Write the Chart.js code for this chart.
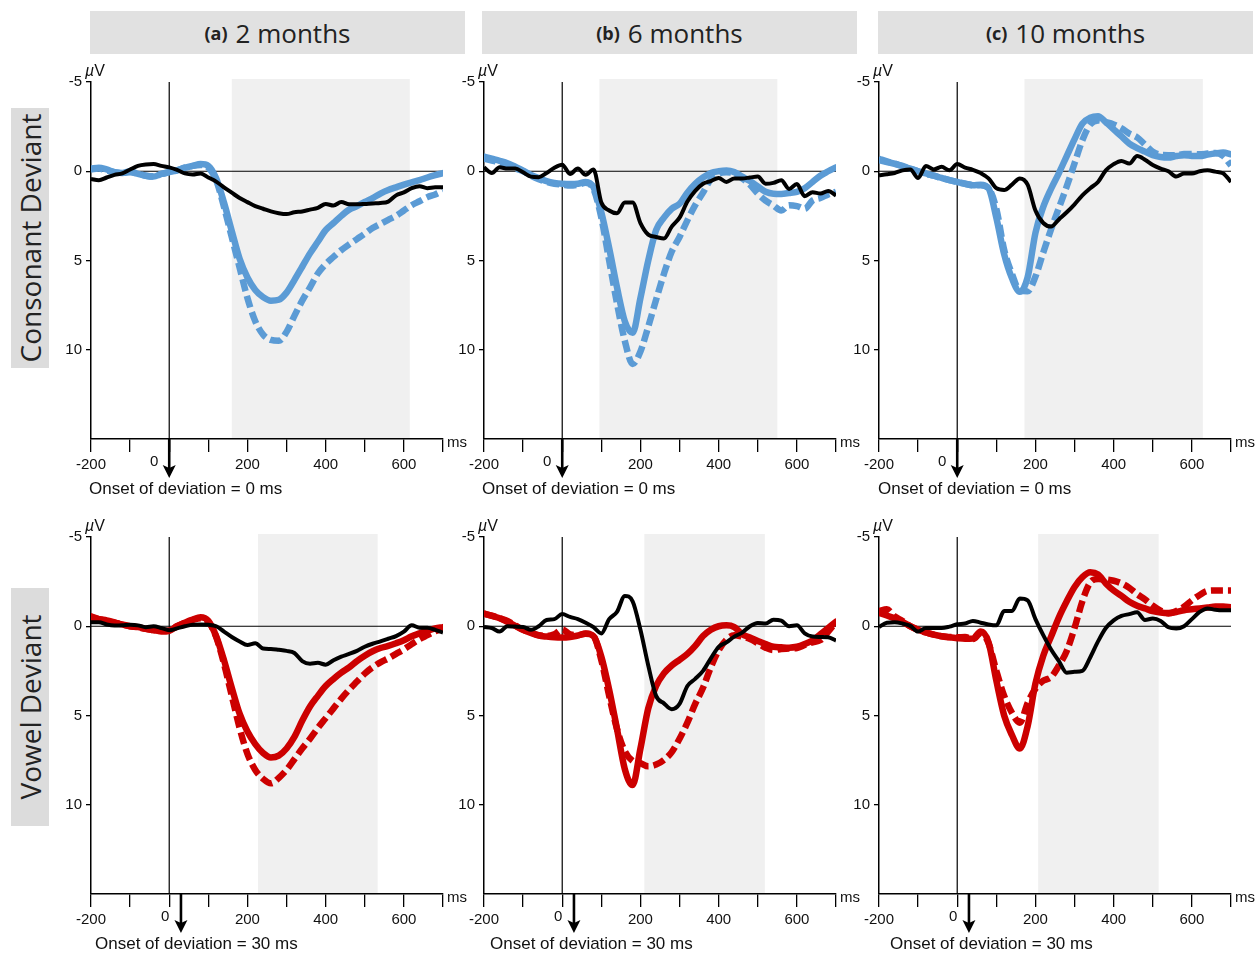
<!DOCTYPE html>
<html>
<head>
<meta charset="utf-8">
<script src="https://cdn.jsdelivr.net/npm/chart.js@4.4.0/dist/chart.umd.min.js"></script>
<style>
  body { margin: 0; background: #fff; }
  #fig { position: relative; width: 1257px; height: 953px; overflow: hidden; font-family: "Liberation Sans", Arial, sans-serif; color: #111; }
  .head { position: absolute; top: 11px; height: 43px; width: 375px; background: #e1e1e1; display: flex; align-items: center; justify-content: center; font-family: "Open Sans", sans-serif; color: #222; }
  .head b { font-size: 18px; margin-right: 8px; }
  .head span { font-size: 26px; }
  .row { position: absolute; left: 11px; width: 38px; background: #dcdcdc; }
  .row div { position: absolute; left: 50%; top: 50%; transform: translate(-50%, -50%) rotate(-90deg); white-space: nowrap; font-family: "Open Sans", sans-serif; font-size: 28px; color: #222; }
  canvas { position: absolute; }
  .onset { position: absolute; font-size: 17px; line-height: 18px; white-space: nowrap; }
</style>
</head>
<body>
<div id="fig">
  <div class="head" style="left:90px"><b>(a)</b><span>2 months</span></div>
  <div class="head" style="left:482px"><b>(b)</b><span>6 months</span></div>
  <div class="head" style="left:878px"><b>(c)</b><span>10 months</span></div>
  <div class="row" style="top:108px;height:260px"><div>Consonant Deviant</div></div>
  <div class="row" style="top:588px;height:238px"><div>Vowel Deviant</div></div>
</div>
<script>
// time points (ms) shared by every trace
const times = [-200, -180, -160, -140, -120, -100, -80, -60, -40, -20,
  0, 20, 40, 60, 80, 100, 120, 140, 160, 180,
  200, 220, 240, 260, 280, 300, 320, 340, 360, 380,
  400, 420, 440, 460, 480, 500, 520, 540, 560, 580,
  600, 620, 640, 660, 680, 700];

const xTickLabels = [-200, 200, 400, 600];

// consonant deviant (µV)
const consonant2m_solid = [-0.15, -0.2, -0.1, 0.05, 0.1, 0, 0.15, 0.25, 0.3, 0.15,
  0.05, -0.05, -0.2, -0.3, -0.4, -0.3, 0.4, 1.75, 3.35, 4.9,
  5.95, 6.65, 7.05, 7.25, 7.2, 6.8, 6.1, 5.35, 4.6, 3.95,
  3.3, 2.9, 2.5, 2.15, 1.95, 1.72, 1.5, 1.25, 1.05, 0.9,
  0.75, 0.62, 0.5, 0.35, 0.22, 0.1];
const consonant2m_dashed = [-0.1, -0.15, -0.05, 0.05, 0.1, 0.05, 0.15, 0.25, 0.3, 0.15,
  0.05, -0.05, -0.2, -0.3, -0.35, -0.2, 0.5, 2.0, 3.7, 5.4,
  7.1, 8.4, 9.15, 9.45, 9.5, 9.0, 8.1, 7.25, 6.5, 5.73,
  5.2, 4.8, 4.42, 4.1, 3.8, 3.5, 3.18, 2.95, 2.72, 2.5,
  2.2, 1.9, 1.68, 1.45, 1.3, 1.1];
const consonant2m_black = [0.43, 0.5, 0.35, 0.2, 0.12, -0.1, -0.3, -0.38, -0.4, -0.3,
  -0.22, -0.08, 0.12, 0.18, 0.12, 0.35, 0.58, 0.9, 1.2, 1.5,
  1.73, 1.95, 2.1, 2.25, 2.35, 2.4, 2.3, 2.25, 2.15, 2.05,
  1.83, 1.92, 1.72, 1.85, 1.85, 1.83, 1.8, 1.78, 1.7, 1.35,
  1.18, 0.95, 0.84, 0.95, 0.9, 0.9];

const consonant6m_solid = [-0.82, -0.7, -0.58, -0.45, -0.25, -0.04, 0.2, 0.38, 0.55, 0.65,
  0.7, 0.72, 0.7, 0.6, 0.9, 2.3, 4.3, 6.5, 8.4, 9.05,
  7.1, 5.0, 3.3, 2.6, 2.1, 1.82, 1.2, 0.7, 0.35, 0.1,
  0, -0.04, 0.05, 0.3, 0.55, 0.85, 1.15, 1.26, 1.27, 1.22,
  1.15, 0.95, 0.6, 0.25, 0, -0.22];
const consonant6m_dashed = [-0.7, -0.6, -0.5, -0.35, -0.15, 0, 0.25, 0.45, 0.6, 0.7,
  0.75, 0.8, 0.75, 0.65, 1.0, 2.6, 5.0, 7.4, 9.5, 10.8,
  10.1, 8.7, 7.2, 5.75, 4.5, 3.68, 2.75, 1.9, 1.2, 0.45,
  0.12, 0.05, 0.12, 0.4, 0.75, 1.25, 1.65, 1.92, 2.2, 1.9,
  1.95, 2.1, 1.64, 1.5, 1.3, 1.15];
const consonant6m_black = [-0.22, 0.1, -0.22, -0.15, -0.15, 0.06, 0.3, 0.33, 0.1, -0.2,
  -0.37, 0.15, -0.15, 0.2, -0.1, 1.75, 2.2, 2.35, 1.75, 1.75,
  2.9, 3.55, 3.68, 3.77, 3.1, 2.6, 1.7, 1.1, 0.7, 0.55,
  0.38, 0.6, 0.4, 0.4, 0.35, 0.3, 0.7, 0.65, 0.5, 0.99,
  0.72, 1.4, 1.17, 1.25, 1.1, 1.36];

const consonant10m_solid = [-0.62, -0.52, -0.42, -0.28, -0.15, 0, 0.12, 0.25, 0.37, 0.5,
  0.6, 0.7, 0.78, 0.75, 0.95, 2.6, 4.65, 6.0, 6.75, 5.95,
  3.45, 2.0, 0.98, 0.1, -0.85, -1.8, -2.67, -3.0, -3.08, -2.75,
  -2.35, -1.95, -1.55, -1.3, -1.1, -0.9, -0.8, -0.77, -0.85, -0.9,
  -0.86, -0.85, -0.93, -1.0, -1.05, -0.95];
const consonant10m_dashed = [-0.7, -0.55, -0.42, -0.3, -0.15, 0, 0.15, 0.25, 0.38, 0.5,
  0.6, 0.7, 0.78, 0.78, 0.95, 2.1, 4.4, 5.75, 6.7, 6.72,
  5.9, 4.55, 3.25, 2.05, 0.85, -0.45, -1.74, -2.62, -2.85, -2.75,
  -2.62, -2.4, -2.11, -1.9, -1.5, -1.1, -0.92, -0.9, -0.9, -0.97,
  -0.97, -0.95, -0.99, -1.02, -0.85, -0.32];
const consonant10m_black = [0.22, 0.17, 0.1, -0.05, -0.1, 0.38, -0.3, -0.1, -0.25, -0.05,
  -0.4, -0.2, -0.08, 0.1, 0.4, 0.95, 1.05, 0.75, 0.4, 0.75,
  2.2, 2.9, 3.1, 2.7, 2.3, 1.85, 1.35, 0.95, 0.6, -0.05,
  -0.4, -0.58, -0.43, -0.85, -0.65, -0.35, -0.15, 0, 0.3, 0.13,
  0.13, 0, -0.05, 0.02, 0.12, 0.6];

// vowel deviant (µV)
const vowel2m_solid = [-0.56, -0.4, -0.33, -0.22, -0.1, 0, 0.05, 0.15, 0.22, 0.28,
  0.25, 0, -0.2, -0.37, -0.5, -0.3, 0.56, 1.9, 3.45, 4.9,
  5.9, 6.6, 7.1, 7.35, 7.25, 6.85, 6.2, 5.3, 4.5, 3.9,
  3.35, 2.95, 2.6, 2.3, 1.95, 1.65, 1.4, 1.22, 1.1, 0.95,
  0.78, 0.56, 0.4, 0.25, 0.12, 0.05];
const vowel2m_dashed = [-0.5, -0.4, -0.3, -0.2, -0.1, 0, 0.05, 0.15, 0.22, 0.28,
  0.25, 0, -0.2, -0.35, -0.45, -0.25, 0.6, 2.1, 3.9, 5.7,
  7.15, 8.05, 8.55, 8.8, 8.5, 8.05, 7.45, 6.85, 6.3, 5.7,
  5.15, 4.6, 4.05, 3.55, 3.1, 2.65, 2.3, 2.02, 1.8, 1.55,
  1.3, 1.0, 0.72, 0.5, 0.28, 0.12];
const vowel2m_black = [-0.22, -0.22, -0.1, -0.04, -0.05, -0.08, -0.05, 0.05, 0, 0.1,
  0.22, 0.12, 0, -0.09, -0.1, -0.08, 0, 0.3, 0.6, 0.85,
  1.05, 0.95, 1.25, 1.27, 1.32, 1.38, 1.5, 1.95, 2.1, 2.05,
  2.15, 1.9, 1.7, 1.55, 1.38, 1.15, 0.98, 0.85, 0.7, 0.55,
  0.3, -0.05, 0.08, 0.09, 0.2, 0.35];

const vowel6m_solid = [-0.71, -0.58, -0.45, -0.25, -0.02, 0.2, 0.38, 0.52, 0.58, 0.62,
  0.63, 0.6, 0.52, 0.42, 0.55, 1.7, 3.55, 5.75, 8.0, 8.9,
  6.85, 4.6, 3.35, 2.64, 2.2, 1.88, 1.55, 1.1, 0.55, 0.2,
  0, -0.05, 0.05, 0.45, 0.63, 0.82, 1.0, 1.15, 1.18, 1.2,
  1.15, 1.0, 0.8, 0.45, 0.1, -0.25];
const vowel6m_dashed = [-0.7, -0.6, -0.45, -0.3, -0.05, 0.2, 0.35, 0.5, 0.55, 0.45,
  0.19, 0.45, 0.5, 0.4, 0.55, 1.9, 3.9, 5.75, 7.0, 7.55,
  7.67, 7.85, 7.75, 7.49, 7.05, 6.3, 5.4, 4.35, 3.45, 2.3,
  1.35, 0.75, 0.5, 0.58, 0.72, 0.95, 1.2, 1.34, 1.27, 1.25,
  1.22, 1.05, 0.9, 0.78, 0.3, -0.25];
const vowel6m_black = [0.04, 0.1, 0.3, 0, 0.02, 0.04, 0.2, 0, -0.35, -0.4,
  -0.68, -0.52, -0.4, -0.2, 0.05, 0.4, -0.4, -0.8, -1.7, -1.4,
  0.2, 2.2, 3.9, 4.32, 4.65, 4.35, 3.35, 2.95, 2.5, 1.8,
  1.15, 0.9, 0.58, 0.36, 0, -0.18, -0.15, -0.37, -0.32, 0,
  -0.05, 0.4, 0.58, 0.6, 0.62, 0.8];

const vowel10m_solid = [-0.76, -0.6, -0.45, -0.25, 0, 0.2, 0.35, 0.47, 0.56, 0.62,
  0.67, 0.7, 0.69, 0.3, 0.9, 3.05, 5.0, 6.1, 6.85, 5.6,
  3.2, 1.65, 0.58, -0.5, -1.4, -2.2, -2.75, -3.02, -2.9, -2.4,
  -2.0, -1.7, -1.37, -1.15, -1.0, -0.85, -0.77, -0.74, -0.8, -0.9,
  -0.95, -1.0, -1.05, -1.1, -1.1, -1.07];
const vowel10m_dashed = [-0.85, -0.95, -0.55, -0.3, 0, 0.2, 0.35, 0.47, 0.56, 0.6,
  0.62, 0.6, 0.72, 0.4, 0.95, 2.5, 3.9, 4.85, 5.4, 4.3,
  3.5, 3.05, 2.85, 2.2, 1.38, 0.1, -1.4, -2.45, -2.65, -2.62,
  -2.55, -2.4, -2.15, -1.8, -1.5, -1.15, -0.87, -0.72, -0.85, -1.1,
  -1.45, -1.75, -1.98, -2.0, -2.0, -2.0];
const vowel10m_black = [0.04, -0.2, -0.22, -0.15, -0.02, 0.3, 0.1, 0.1, 0.1, 0.02,
  -0.11, -0.15, -0.3, -0.2, -0.1, -0.05, -0.85, -0.85, -1.55, -1.45,
  -0.4, 0.5, 1.3, 1.95, 2.6, 2.55, 2.5, 1.75, 0.85, 0.1,
  -0.33, -0.58, -0.68, -0.78, -0.35, -0.43, -0.3, 0.06, 0.13, 0,
  -0.4, -0.8, -1.0, -0.92, -0.89, -0.89];

const BLUE = '#5b9bd5';
const RED = '#cc0000';
const FONT = '"Liberation Sans", Arial, sans-serif';

Chart.defaults.font.family = FONT;
Chart.defaults.font.size = 15;
Chart.defaults.color = '#111';

// plot area of each panel on the page
const panels = [
  { left: 91, top: 82, solid: consonant2m_solid, dashed: consonant2m_dashed, black: consonant2m_black, color: BLUE, shade: [160, 615], onset: 0, zeroShift: -15, label: 'Onset of deviation = 0 ms', labelX: 89 },
  { left: 484, top: 82, solid: consonant6m_solid, dashed: consonant6m_dashed, black: consonant6m_black, color: BLUE, shade: [95, 550], onset: 0, zeroShift: -15, label: 'Onset of deviation = 0 ms', labelX: 482 },
  { left: 879, top: 82, solid: consonant10m_solid, dashed: consonant10m_dashed, black: consonant10m_black, color: BLUE, shade: [172, 628], onset: 0, zeroShift: -15, label: 'Onset of deviation = 0 ms', labelX: 878 },
  { left: 91, top: 537, solid: vowel2m_solid, dashed: vowel2m_dashed, black: vowel2m_black, color: RED, shade: [227, 533], onset: 30, zeroShift: -4, label: 'Onset of deviation = 30 ms', labelX: 95 },
  { left: 484, top: 537, solid: vowel6m_solid, dashed: vowel6m_dashed, black: vowel6m_black, color: RED, shade: [210, 518], onset: 30, zeroShift: -4, label: 'Onset of deviation = 30 ms', labelX: 490 },
  { left: 879, top: 537, solid: vowel10m_solid, dashed: vowel10m_dashed, black: vowel10m_black, color: RED, shade: [207, 515], onset: 30, zeroShift: -4, label: 'Onset of deviation = 30 ms', labelX: 890 }
];

const PLOT_W = 352, PLOT_H = 357;
const PAD_L = 45, PAD_T = 25, PAD_R = 35, AXIS_H = 60;

// shaded window, zero line, onset marker and unit labels
const decor = {
  id: 'decor',
  beforeDraw(chart, args, o) {
    const { ctx, chartArea: a, scales: { x } } = chart;
    const x0 = x.getPixelForValue(o.shadeFrom);
    const x1 = x.getPixelForValue(o.shadeTo);
    ctx.save();
    ctx.fillStyle = '#f0f0f0';
    ctx.fillRect(x0, a.top - 3, x1 - x0, a.bottom - a.top + 3);
    ctx.restore();
  },
  beforeDatasetsDraw(chart) {
    const { ctx, chartArea: a, scales: { x, y } } = chart;
    const yz = y.getPixelForValue(0);
    const xz = x.getPixelForValue(0);
    ctx.save();
    ctx.strokeStyle = '#000';
    ctx.lineWidth = 1.2;
    ctx.beginPath();
    ctx.moveTo(a.left, yz); ctx.lineTo(a.right, yz);
    ctx.moveTo(xz, a.top); ctx.lineTo(xz, a.bottom);
    ctx.stroke();
    ctx.restore();
  },
  afterDraw(chart, args, o) {
    const { ctx, chartArea: a, scales: { x } } = chart;
    const xa = x.getPixelForValue(o.onset);
    const b = a.bottom;
    ctx.save();
    ctx.fillStyle = '#000';
    ctx.strokeStyle = '#000';
    ctx.lineWidth = 2.6;
    ctx.beginPath();
    ctx.moveTo(xa, b); ctx.lineTo(xa, b + 30);
    ctx.stroke();
    ctx.beginPath();
    ctx.moveTo(xa - 6.5, b + 26);
    ctx.lineTo(xa, b + 29);
    ctx.lineTo(xa + 6.5, b + 26);
    ctx.lineTo(xa, b + 39);
    ctx.closePath();
    ctx.fill();

    ctx.fillStyle = '#111';
    ctx.font = '15px ' + FONT;
    ctx.textAlign = 'center';
    ctx.textBaseline = 'middle';
    ctx.fillText('0', x.getPixelForValue(0) + o.zeroShift, b + 23);
    ctx.textAlign = 'left';
    ctx.fillText('ms', a.right + 4, b + 4);

    ctx.textBaseline = 'alphabetic';
    ctx.font = 'italic 16px ' + FONT;
    ctx.fillText('\u00b5', a.left - 6, a.top - 6);
    const w = ctx.measureText('\u00b5').width;
    ctx.font = '16px ' + FONT;
    ctx.fillText('V', a.left - 6 + w, a.top - 6);
    ctx.restore();
  }
};

const pts = vals => times.map((t, i) => ({ x: t, y: vals[i] }));

const fig = document.getElementById('fig');

panels.forEach(p => {
  const cv = document.createElement('canvas');
  cv.width = PAD_L + PLOT_W + PAD_R;
  cv.height = PAD_T + PLOT_H + AXIS_H;
  cv.style.left = (p.left - PAD_L) + 'px';
  cv.style.top = (p.top - PAD_T) + 'px';
  fig.appendChild(cv);

  const txt = document.createElement('div');
  txt.className = 'onset';
  txt.textContent = p.label;
  txt.style.left = p.labelX + 'px';
  txt.style.top = (p.top + PLOT_H + 41) + 'px';
  fig.appendChild(txt);

  new Chart(cv, {
    type: 'line',
    data: {
      datasets: [
        { data: pts(p.black), borderColor: '#000', borderWidth: 4, pointRadius: 0, cubicInterpolationMode: 'monotone' },
        { data: pts(p.dashed), borderColor: p.color, borderWidth: 6.5, borderDash: [12, 5], borderCapStyle: 'butt', pointRadius: 0, cubicInterpolationMode: 'monotone' },
        { data: pts(p.solid), borderColor: p.color, borderWidth: 6.5, borderJoinStyle: 'round', borderCapStyle: 'round', pointRadius: 0, cubicInterpolationMode: 'monotone' }
      ]
    },
    options: {
      responsive: false,
      animation: false,
      events: [],
      layout: { padding: { left: 0, top: PAD_T, right: PAD_R, bottom: 0 } },
      plugins: {
        legend: { display: false },
        tooltip: { enabled: false },
        decor: { shadeFrom: p.shade[0], shadeTo: p.shade[1], onset: p.onset, zeroShift: p.zeroShift }
      },
      scales: {
        x: {
          type: 'linear',
          min: -200,
          max: 700,
          afterFit: s => { s.height = AXIS_H; },
          ticks: {
            stepSize: 100,
            autoSkip: false,
            maxRotation: 0,
            padding: 4,
            callback: v => xTickLabels.includes(v) ? String(v) : ''
          },
          grid: { drawOnChartArea: false, tickLength: 13, color: '#000', lineWidth: 1.3 },
          border: { color: '#000', width: 1.5 }
        },
        y: {
          reverse: true,
          min: -5,
          max: 15,
          afterFit: s => { s.width = PAD_L; },
          ticks: {
            stepSize: 5,
            padding: 4,
            callback: v => v === 15 ? '' : String(v)
          },
          grid: {
            drawOnChartArea: false,
            tickLength: 5,
            lineWidth: 1.3,
            color: c => (c.tick && c.tick.value === 15) ? 'rgba(0,0,0,0)' : '#000'
          },
          border: { color: '#000', width: 1.5 }
        }
      }
    },
    plugins: [decor]
  });
});
</script>
</body>
</html>
